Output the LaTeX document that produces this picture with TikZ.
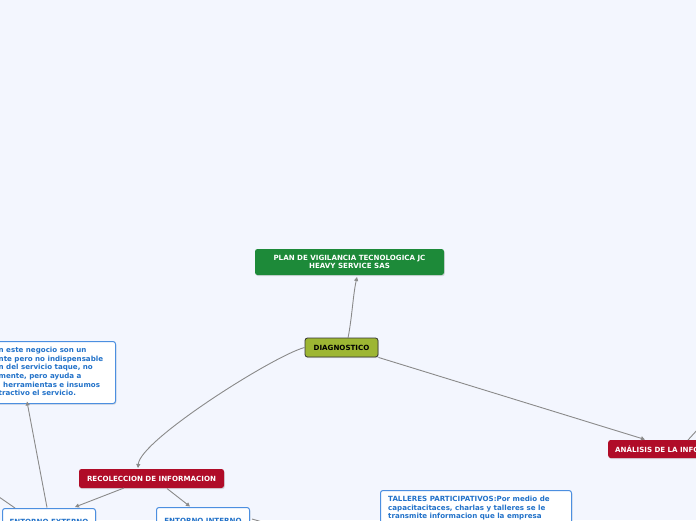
\documentclass[tikz,border=0pt]{standalone}
\usepackage{fontspec}
\setmainfont{DejaVu Sans}
\usetikzlibrary{shadows,arrows.meta}
\definecolor{bg}{HTML}{F3F6FE}
\definecolor{mmgreen}{HTML}{1D8A39}
\definecolor{mmolive}{HTML}{9DB633}
\definecolor{mmred}{HTML}{B00C28}
\definecolor{mmblue}{HTML}{2272C9}
\definecolor{mmborder}{HTML}{4C8FE0}
\definecolor{conn}{HTML}{8A8A8A}
\tikzset{
  basebox/.style={rounded corners=2.5pt, font=\bfseries\fontsize{7.1}{8.2}\selectfont, inner sep=2pt,
    drop shadow={shadow xshift=0.8pt,shadow yshift=-1.2pt,opacity=0.25}},
  greenbox/.style={basebox, fill=mmgreen, text=white, align=center},
  olivebox/.style={basebox, fill=mmolive, draw=black!80, line width=0.8pt, text=black},
  redbox/.style={basebox, fill=mmred, text=white},
  bluebox/.style={basebox, fill=white, draw=mmborder, line width=1pt, text=mmblue},
  bluetext/.style={font=\bfseries\fontsize{7.1}{8.6}\selectfont, text=mmblue, align=left, inner sep=0pt},
  conn/.style={draw=conn, line width=0.9pt, -{Triangle[length=4pt,width=4pt]}},
  connplain/.style={draw=conn, line width=0.9pt}
}
\begin{document}
\begin{tikzpicture}[x=1pt,y=-1pt]
\fill[bg] (0,0) rectangle (696,520);
\useasboundingbox (0,0) rectangle (696,520);
\clip (0,0) rectangle (696,520);
% nodes
\node[greenbox, minimum width=189pt, minimum height=26pt] (plan) at (349.5,262) {PLAN DE VIGILANCIA TECNOLOGICA JC\\HEAVY SERVICE SAS};
\node[olivebox, minimum width=73pt, minimum height=19pt] (diag) at (341.5,347.5) {DIAGNOSTICO};
\node[redbox, minimum width=145pt, minimum height=19pt] (recol) at (151.5,478.5) {RECOLECCION DE INFORMACION};
\node[redbox, minimum width=160pt, minimum height=18pt, anchor=west, text width=148pt, inner xsep=7pt, align=left] (anal) at (608,449) {ANÁLISIS DE LA INFORMACION};
\node[bluebox, minimum width=93pt, minimum height=26pt, anchor=north west, text width=85pt, align=center] (ext) at (2,508) {ENTORNO EXTERNO};
\node[bluebox, minimum width=93pt, minimum height=26pt, anchor=north west, text width=85pt, align=center] (int) at (156,507) {ENTORNO INTERNO};
\node[bluebox, minimum width=200pt, minimum height=62pt, anchor=north east] (prov) at (116,341) {};
\node[bluetext, anchor=north west] (provtext) at (-1.5,347) {n este negocio son un\\nte pero no indispensable\\n del servicio taque, no\\mente, pero ayuda a\\\hspace{4.5pt}herramientas e insumos\\tractivo el servicio.};
\node[bluebox, minimum width=191pt, minimum height=60pt, anchor=north west] (tall) at (380,490) {};
\node[bluetext, anchor=north west] (talltext) at (388,496) {TALLERES PARTICIPATIVOS:Por medio de\\capacitacitaces, charlas y talleres se le\\transmite informacion que la empresa};
% off-canvas coordinates
\coordinate (offa) at (720,405);
\coordinate (offb) at (-40,470);
\coordinate (offc) at (290,530);
% connectors
\draw[conn] (348,338) .. controls (352,318) and (353,295) .. (357,277);
\draw[conn] (diag.west) .. controls (275,355) and (140,440) .. (138,468);
\draw[conn] (diag.south east) -- (645,439.5);
\draw[connplain] (688,440) -- (offa);
\draw[conn] (124,488) -- (75,507);
\draw[conn] (167,488.5) -- (190,506.5);
\draw[conn] (47,507.5) -- (27,401.5);
\draw[connplain] (15,508) -- (offb);
\draw[connplain] (252,519) -- (offc);
\end{tikzpicture}
\end{document}
